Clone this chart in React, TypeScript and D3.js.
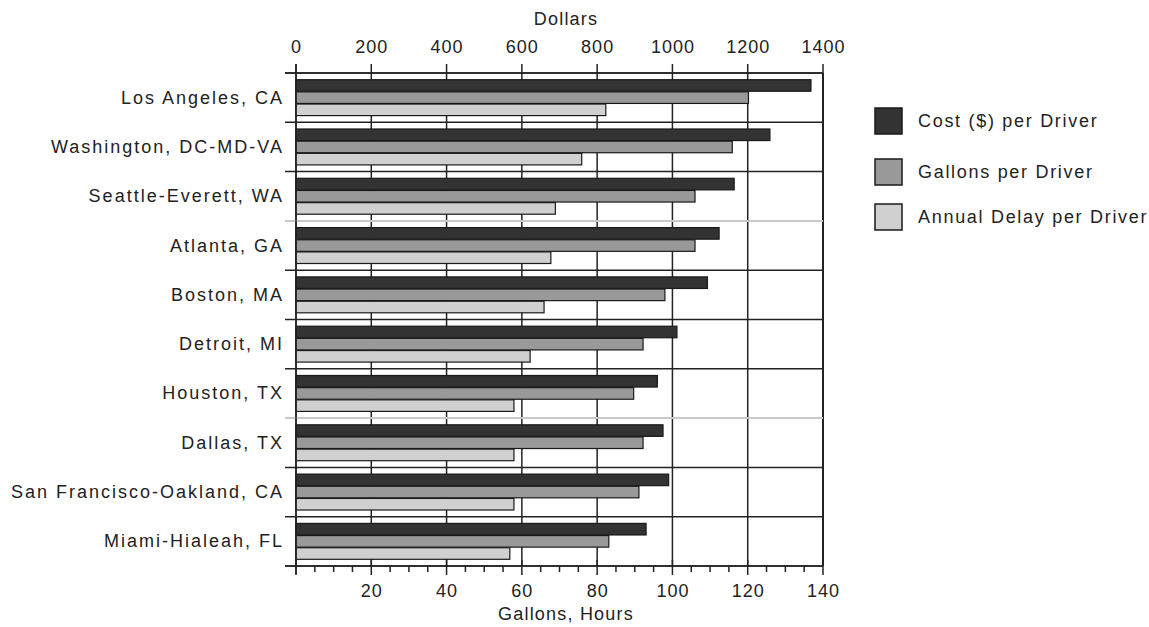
import React from "react";
import * as d3 from "d3";

const cities = [
  "Los Angeles, CA",
  "Washington, DC-MD-VA",
  "Seattle-Everett, WA",
  "Atlanta, GA",
  "Boston, MA",
  "Detroit, MI",
  "Houston, TX",
  "Dallas, TX",
  "San Francisco-Oakland, CA",
  "Miami-Hialeah, FL",
];
const costPerDriver = [1368, 1259, 1164, 1124, 1093, 1012, 960, 975, 990, 930];
const gallonsPerDriver = [120.2, 115.9, 106, 106, 98, 92.2, 89.7, 92.2, 91.1, 83.1];
const delayPerDriver = [82.3, 75.9, 68.9, 67.7, 65.9, 62.2, 57.9, 57.9, 57.9, 56.8];

const seriesNames = ["Cost ($) per Driver", "Gallons per Driver", "Annual Delay per Driver"];
const seriesColors = ["#333333", "#999999", "#d0d0d0"];
const dollarTicks = [0, 200, 400, 600, 800, 1000, 1200, 1400];
const gallonTicks = [20, 40, 60, 80, 100, 120, 140];
const minorGallonTicks = d3.range(0, 141, 5);

const W = 1149;
const H = 627;
const left = 296;
const right = 823;
const top = 73;
const bottom = 566;
const FONT = "'Liberation Sans', Arial, sans-serif";

const base: React.CSSProperties = {
  fontFamily: FONT,
  fontSize: 18,
  fill: "#222",
};
const catStyle: React.CSSProperties = { ...base, letterSpacing: "2px" };
const legStyle: React.CSSProperties = { ...base, letterSpacing: "1.7px" };
const tickStyle: React.CSSProperties = { ...base, letterSpacing: "1px" };
const titleStyle: React.CSSProperties = { ...base, letterSpacing: "1.2px" };

export default function App() {
  const xD = d3.scaleLinear().domain([0, 1400]).range([left, right]);
  const xG = d3.scaleLinear().domain([0, 140]).range([left, right]);
  const y = d3.scaleBand<string>().domain(cities).range([top, bottom]).padding(0);
  const inner = d3
    .scaleBand<number>()
    .domain([0, 1, 2])
    .range([0, y.bandwidth()])
    .paddingInner(0.05)
    .paddingOuter(0.55);

  const rows = cities.map((c, i) => ({
    city: c,
    vals: [
      { s: 0, x: xD(costPerDriver[i]) },
      { s: 1, x: xG(gallonsPerDriver[i]) },
      { s: 2, x: xG(delayPerDriver[i]) },
    ],
  }));

  const boundaries = cities.map((c) => y(c) as number).concat([bottom]);
  const lightIdx = new Set([3, 7]);
  const titleX = 566;

  return (
    <svg
      width={W}
      height={H}
      style={{ position: "absolute", left: 0, top: 0, background: "#fff" }}
    >
      <rect x={0} y={0} width={W} height={H} fill="#fff" />
      {/* vertical gridlines */}
      {dollarTicks.map((t) => (
        <line
          key={"g" + t}
          x1={xD(t)}
          x2={xD(t)}
          y1={top}
          y2={bottom}
          stroke="#222"
          strokeWidth={t === 1400 ? 2 : 1.5}
        />
      ))}
      {/* horizontal separators */}
      {boundaries.map((b, i) => (
        <line
          key={"h" + i}
          x1={left - 11}
          x2={right}
          y1={b}
          y2={b}
          stroke={lightIdx.has(i) ? "#c8c8c8" : "#222"}
          strokeWidth={lightIdx.has(i) ? 2 : 1.5}
        />
      ))}
      {/* bars */}
      {rows.map((r) => (
        <g key={r.city} transform={`translate(0,${y(r.city)})`}>
          {r.vals.map((v) => (
            <rect
              key={v.s}
              x={left}
              y={inner(v.s)}
              width={v.x - left}
              height={inner.bandwidth()}
              fill={seriesColors[v.s]}
              stroke="#1a1a1a"
              strokeWidth={1.2}
            />
          ))}
        </g>
      ))}
      {/* left axis line */}
      <line x1={left} x2={left} y1={top - 9} y2={bottom + 8} stroke="#222" strokeWidth={1.5} />
      {/* top axis */}
      <line x1={left - 11} x2={right} y1={top} y2={top} stroke="#222" strokeWidth={1.5} />
      {dollarTicks.map((t) => (
        <g key={"td" + t}>
          <line x1={xD(t)} x2={xD(t)} y1={top - 9} y2={top} stroke="#222" strokeWidth={1.5} />
          <text x={xD(t) + 0.5} y={53} textAnchor="middle" style={tickStyle}>
            {t}
          </text>
        </g>
      ))}
      <text x={titleX} y={25} textAnchor="middle" style={titleStyle}>
        Dollars
      </text>
      {/* bottom axis */}
      <line x1={left - 11} x2={right} y1={bottom} y2={bottom} stroke="#222" strokeWidth={1.5} />
      {minorGallonTicks.map((t) => (
        <line
          key={"mb" + t}
          x1={xG(t)}
          x2={xG(t)}
          y1={t % 20 === 0 ? bottom - 6 : bottom}
          y2={t % 20 === 0 ? bottom + 9 : bottom + 6}
          stroke="#222"
          strokeWidth={1.5}
        />
      ))}
      {gallonTicks.map((t) => (
        <text key={"tb" + t} x={xG(t) + 0.5} y={597} textAnchor="middle" style={tickStyle}>
          {t}
        </text>
      ))}
      <text x={titleX} y={620} textAnchor="middle" style={titleStyle}>
        Gallons, Hours
      </text>
      {/* category labels */}
      {cities.map((c) => (
        <text
          key={"l" + c}
          x={284}
          y={(y(c) as number) + y.bandwidth() / 2 + 6}
          textAnchor="end"
          style={catStyle}
        >
          {c}
        </text>
      ))}
      {/* legend */}
      {seriesNames.map((n, i) => {
        const ly = [121, 172, 217][i];
        return (
          <g key={"lg" + n}>
            <rect
              x={875}
              y={ly - 13}
              width={27}
              height={26}
              fill={seriesColors[i]}
              stroke="#1a1a1a"
              strokeWidth={1.5}
            />
            <text x={918} y={ly + 6} style={legStyle}>
              {n}
            </text>
          </g>
        );
      })}
    </svg>
  );
}
